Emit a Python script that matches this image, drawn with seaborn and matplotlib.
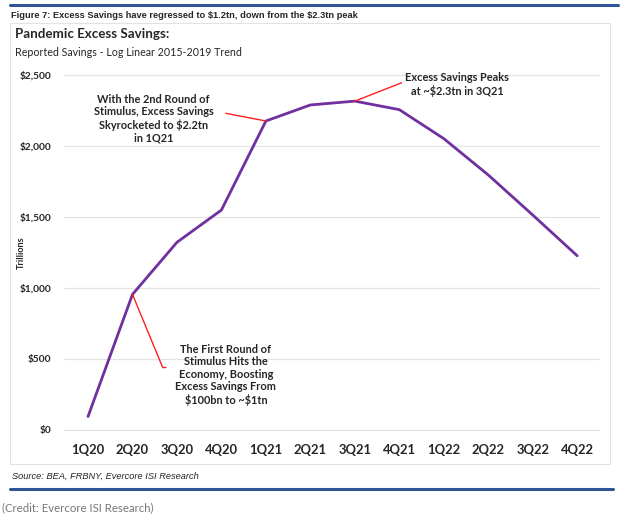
import seaborn as sns
import pandas as pd
import matplotlib.pyplot as plt
from matplotlib.patches import Rectangle

quarters = ['1Q20', '2Q20', '3Q20', '4Q20', '1Q21', '2Q21',
            '3Q21', '4Q21', '1Q22', '2Q22', '3Q22', '4Q22']
savings = [95, 955, 1322, 1549, 2176, 2289, 2316, 2256, 2052, 1796, 1514, 1227]
y_ticks = [0, 500, 1000, 1500, 2000, 2500]
y_tick_labels = ['$0', '$500', '$1,000', '$1,500', '$2,000', '$2,500']

df = pd.DataFrame({'pos': range(len(quarters)), 'savings': savings})

sns.set_style('white')
plt.rcParams['font.family'] = ['Lato', 'DejaVu Sans']
plt.rcParams['text.parse_math'] = False

W, H = 624, 520
fig = plt.figure(figsize=(W / 100, H / 100), dpi=100)

# outer decorations (fig pixel coords, top-down)
def fy(y):
    return 1 - y / H

blue = '#2f5597'
fig.add_artist(plt.Line2D([10 / W, 618 / W], [fy(5), fy(5)], color=blue, lw=2.2))
fig.add_artist(plt.Line2D([10 / W, 613 / W], [fy(489), fy(489)], color=blue, lw=2.2))
fig.add_artist(Rectangle((10 / W, fy(464)), 600 / W, 441 / H, transform=fig.transFigure,
                         facecolor='white', edgecolor='#e2e2e2', lw=0.8, zorder=-5))

fig.text(11 / W, fy(15), 'Figure 7: Excess Savings have regressed to $1.2tn, down from the $2.3tn peak',
         family=['Liberation Sans', 'DejaVu Sans'], fontsize=6.65, fontweight='bold', va='center')
fig.text(15 / W, fy(34), 'Pandemic Excess Savings:', fontsize=9.6, fontweight='bold', va='center')
fig.text(15 / W, fy(52), 'Reported Savings - Log Linear 2015-2019 Trend', fontsize=7.7, va='center')
fig.text(12 / W, fy(476), 'Source: BEA, FRBNY, Evercore ISI Research',
         family=['Liberation Sans', 'DejaVu Sans'], fontsize=6.7, style='italic', va='center')
fig.text(2 / W, fy(508), '(Credit: Evercore ISI Research)', fontsize=8.2, color='#777777', va='center')

ax = fig.add_axes([64 / W, fy(430), 535 / W, 355 / H])
sns.lineplot(data=df, x='pos', y='savings', ax=ax, color='#7030a0', lw=2)

ax.set_xlim(-0.54, 11.49)
ax.set_ylim(0, 2500)
ax.set_yticks(y_ticks)
ax.set_yticklabels(y_tick_labels, fontweight='bold', fontsize=7.3)
ax.set_xticks(range(len(quarters)))
ax.set_xticklabels(quarters, fontweight='bold', fontsize=9.4)
ax.tick_params(axis='x', length=0, pad=10)
ax.tick_params(axis='y', length=0, pad=9)
for v in y_ticks:
    ax.axhline(v, color='#e4e4e4', lw=0.9, zorder=0, clip_on=False)
for s in ax.spines.values():
    s.set_visible(False)
ax.set_xlabel('')
ax.set_ylabel('Trillions', fontsize=6.6, fontweight='bold')
ax.yaxis.set_label_coords(-38 / 535, 0.5)
ax.patch.set_alpha(0)

red = '#ff2020'
# first round annotation
ax.plot([1, 1.68, 1.75], [savings[1], 440, 440], color=red, lw=1)
ax.text(3.1, 390, 'The First Round of\nStimulus Hits the\nEconomy, Boosting\nExcess Savings From\n$100bn to ~$1tn',
        ha='center', va='center', fontsize=7.9, fontweight='bold', linespacing=1.16)
# second round annotation
ax.plot([4, 3.1], [savings[4], 2230], color=red, lw=1)
ax.text(1.47, 2195, 'With the 2nd Round of\nStimulus, Excess Savings\nSkyrocketed to $2.2tn\nin 1Q21',
        ha='center', va='center', fontsize=7.9, fontweight='bold', linespacing=1.16)
# peak annotation
ax.plot([6, 7.05], [savings[6], 2445], color=red, lw=1)
ax.text(8.3, 2435, 'Excess Savings Peaks\nat ~$2.3tn in 3Q21',
        ha='center', va='center', fontsize=7.9, fontweight='bold', linespacing=1.16)

fig.savefig('out.png', dpi=100)
